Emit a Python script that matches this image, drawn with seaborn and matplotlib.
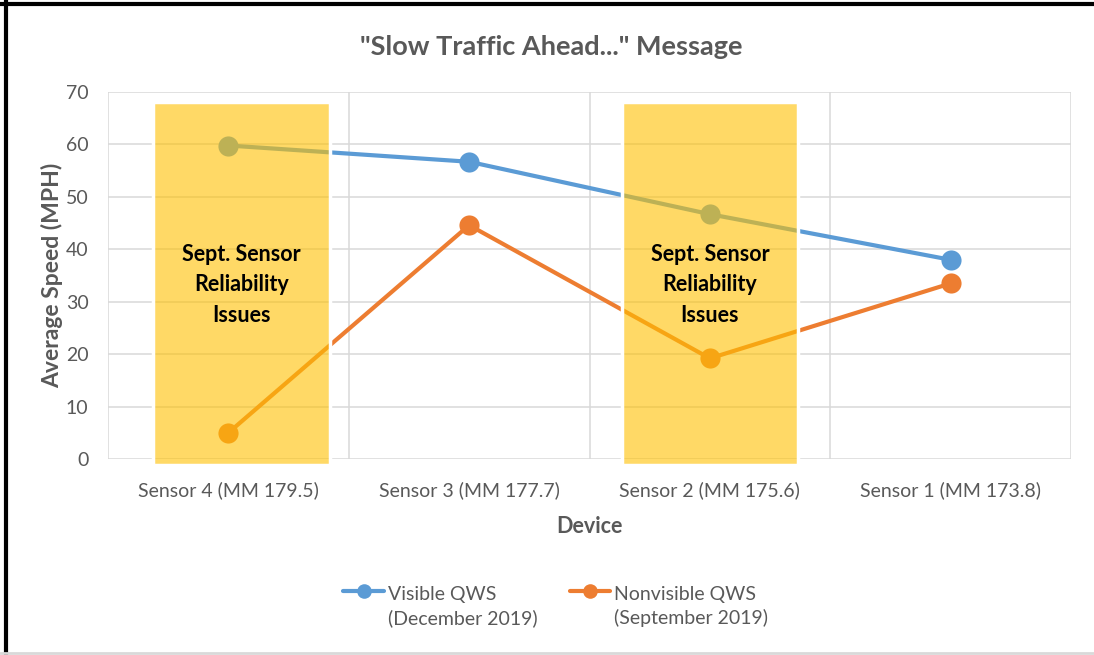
import matplotlib
matplotlib.use("Agg")
import matplotlib.pyplot as plt
from matplotlib.patches import Rectangle
from matplotlib.lines import Line2D
from matplotlib.legend_handler import HandlerLine2D
import pandas as pd
import seaborn as sns

devices = ['Sensor 4 (MM 179.5)', 'Sensor 3 (MM 177.7)',
           'Sensor 2 (MM 175.6)', 'Sensor 1 (MM 173.8)']
visible = [59.8, 56.7, 46.7, 38.0]
nonvisible = [5.0, 44.6, 19.2, 33.5]
series_names = ['Visible QWS\n(December 2019)', 'Nonvisible QWS\n(September 2019)']
flagged = ['Sensor 4 (MM 179.5)', 'Sensor 2 (MM 175.6)']
flag_text = 'Sept. Sensor\nReliability\nIssues'

df = pd.DataFrame({
    'Device': devices * 2,
    'Speed': visible + nonvisible,
    'Series': [series_names[0]] * 4 + [series_names[1]] * 4,
})

sns.set_theme(style="white")
plt.rcParams['font.family'] = ['Lato', 'DejaVu Sans']

grey = '#595959'
colors = ['#5B9BD5', '#ED7D31']


class RaisedLine(HandlerLine2D):
    # put the legend marker level with the first line of a two-line label
    def create_artists(self, legend, orig_handle, xdescent, ydescent,
                       width, height, fontsize, trans):
        return super().create_artists(legend, orig_handle, xdescent,
                                      ydescent - 22, width, height, fontsize, trans)


fig = plt.figure(figsize=(10.94, 6.55), dpi=100)
ax = fig.add_axes([0.0987, 0.2992, 0.8803, 0.5603])

sns.lineplot(data=df, x='Device', y='Speed', hue='Series', palette=colors,
             marker='o', markersize=14.5, markeredgewidth=0, linewidth=3,
             sort=False, ax=ax, legend=False, zorder=3)

ax.set_xlim(-0.5, 3.5)
ax.set_ylim(0, 70)
ax.set_yticks(range(0, 71, 10))
ax.set_xticks(range(len(devices)))
ax.set_xticks([i - 0.5 for i in range(len(devices) + 1)], minor=True)
ax.tick_params(axis='x', which='minor', length=0)
ax.grid(axis='y', which='major', color='#D9D9D9', linewidth=1.1, zorder=0)
ax.grid(axis='x', which='minor', color='#D9D9D9', linewidth=1.1, zorder=0)
ax.grid(axis='x', which='major', visible=False)
for s in ax.spines.values():
    s.set_visible(False)
ax.tick_params(axis='both', length=0, labelcolor=grey, labelsize=14)
ax.tick_params(axis='y', pad=14)
ax.tick_params(axis='x', pad=16)

# shaded "reliability issues" boxes (first one sits a little right of its point)
box_shift = [0.054, 0.0]
for d, sh in zip(flagged, box_shift):
    i = devices.index(d)
    x0 = i - 0.367 + sh
    ax.add_patch(Rectangle((x0, -1.1), 0.734, 69.2, facecolor='#FFC000',
                           alpha=0.6, edgecolor='none', zorder=4, clip_on=False))
    ax.add_patch(Rectangle((x0, -1.1), 0.734, 69.2, facecolor='none',
                           edgecolor='white', linewidth=2.5, zorder=4.5, clip_on=False))
    ax.text(i + sh, 33.2, flag_text, ha='center', va='center', fontsize=15.5,
            fontweight='bold', color='black', linespacing=1.55, zorder=5)

ax.set_xlabel('Device', fontsize=15.5, fontweight='bold', color=grey, labelpad=12)
ax.set_ylabel('Average Speed (MPH)', fontsize=16.5, fontweight='bold', color=grey, labelpad=2)
fig.suptitle('"Slow Traffic Ahead..." Message', x=0.5035, y=0.929, va='center',
             fontsize=19.5, fontweight='bold', color=grey)

handles = [Line2D([], [], color=c, lw=3, marker='o', markersize=10.5, markeredgewidth=0)
           for c in colors]
leg = fig.legend(handles, series_names, loc='center', bbox_to_anchor=(0.508, 0.074),
                 ncol=2, frameon=False, fontsize=14, handlelength=2.1,
                 handletextpad=0.2, columnspacing=1.65,
                 handler_map={Line2D: RaisedLine()})
for t in leg.get_texts():
    t.set_color(grey)
    t.set_linespacing(1.4)

# outer frame
fig.add_artist(Line2D([0, 1], [0.9935, 0.9935], color='black', lw=3, transform=fig.transFigure))
fig.add_artist(Line2D([0.0055, 0.0055], [0, 1], color='black', lw=3, transform=fig.transFigure))
fig.add_artist(Line2D([0, 1], [0.003, 0.003], color='#D9D9D9', lw=2, transform=fig.transFigure))

fig.savefig('out.png', dpi=100)
